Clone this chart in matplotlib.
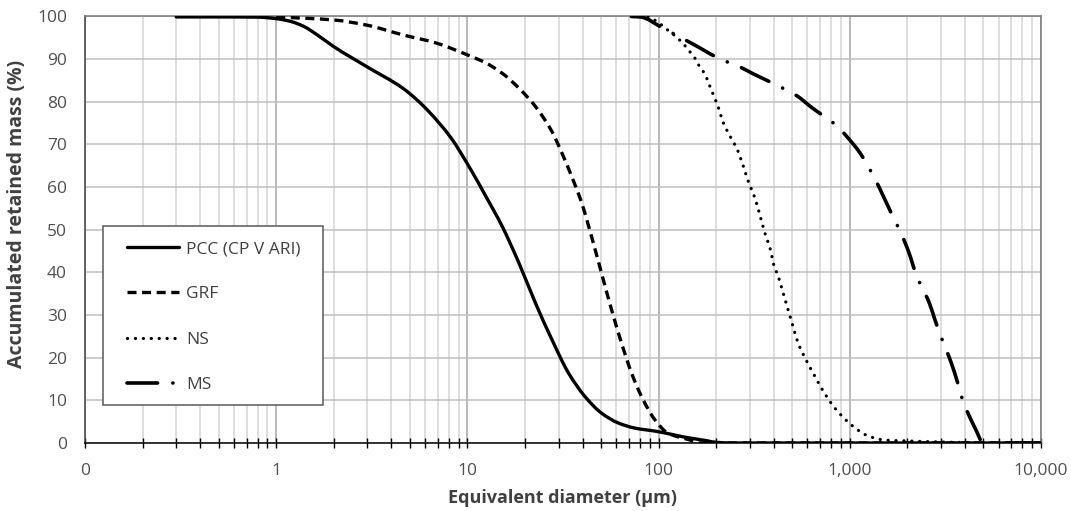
import matplotlib
matplotlib.use("Agg")
import numpy as np
import matplotlib.pyplot as plt
from matplotlib.path import Path
from matplotlib.patches import PathPatch, Rectangle
from matplotlib.lines import Line2D
from matplotlib.ticker import FixedLocator, FixedFormatter, LogLocator, NullFormatter

plt.rcParams['font.family'] = ['Open Sans', 'DejaVu Sans']
plt.rcParams['lines.scale_dashes'] = False

# Particle size distributions (equivalent diameter in µm, accumulated retained mass in %)
pcc_d = [0.3, 0.5, 0.8, 1.0, 1.2, 1.39, 1.65, 1.99, 2.96, 4.59, 5.4, 6.32, 8.19, 10.2,
         12.5, 15.2, 18.6, 22.7, 27.7, 33.8, 41.2, 50.3, 61.5, 75.0, 98.4, 119, 136,
         178, 200, 250, 500, 1000, 2000, 5000, 10000]
pcc_m = [99.9, 99.9, 99.85, 99.5, 98.8, 97.7, 95.6, 93.0, 88.3, 83.2, 80.6, 77.6, 71.6,
         64.8, 57.8, 50.8, 42.2, 32.8, 24.2, 16.4, 10.9, 7.0, 4.7, 3.5, 2.7, 1.95, 1.4,
         0.55, 0.15, 0, 0, 0, 0, 0, 0]

grf_d = [1.0, 1.99, 2.96, 4.59, 6.85, 10, 12.5, 15.2, 18.6, 22.7, 27.7, 31.2, 35.1,
         39.6, 44.6, 50.3, 56.8, 64.0, 72.2, 81.4, 95.4, 112, 146, 164, 500, 10000]
grf_m = [99.9, 99.2, 98.0, 95.7, 93.8, 91.0, 89.1, 86.7, 83.2, 78.9, 73.0, 68.0, 62.5,
         56.3, 48.4, 39.8, 31.2, 23.4, 16.4, 10.9, 5.5, 2.3, 0.7, 0, 0, 0]

ns_d = [88, 100, 108, 115, 134, 146, 155, 164, 174, 189, 205, 217, 240, 255, 276, 293,
        318, 337, 358, 383, 403, 420, 446, 473, 502, 533, 590, 652, 721, 812, 934,
        1075, 1211, 1365, 1509, 1958, 2920, 4352, 10000]
ns_m = [100, 98.6, 97.3, 96.4, 93.7, 91.7, 90.2, 88.2, 86.6, 82.7, 78.8, 75.3, 71.4,
        69.3, 65.2, 61.6, 57.6, 53.8, 49.5, 45.6, 41.3, 39.4, 35.5, 31.6, 27.7, 23.8,
        19.5, 15.9, 12.4, 8.9, 5.8, 3.4, 1.9, 1.1, 0.7, 0.5, 0.25, 0.1, 0]

ms_d = [72, 80, 106, 149, 213, 260, 311, 446, 533, 626, 863, 984, 1119, 1365, 1496,
        1636, 1920, 2080, 2208, 2612, 2783, 2978, 3424, 3666, 3865, 4532, 5000, 10000]
ms_m = [100, 99.9, 97.2, 93.7, 89.9, 88.4, 86.6, 83.2, 81.3, 78.8, 74.2, 71.4, 68.3,
        61.6, 57.9, 54.2, 47.6, 43.5, 39.8, 32.7, 29.0, 25.3, 18.3, 14.1, 10.5, 3.4,
        0, 0]

series_names = ['PCC (CP V ARI)', 'GRF', 'NS', 'MS']

x_major = [0.1, 1, 10, 100, 1000, 10000]
x_labels = ["0", "1", "10", "100", "1,000", "10,000"]
y_ticks = list(range(0, 101, 10))


def smoothed_path(xs, ys):
    """Monotone cubic (Fritsch-Butland) Bezier path through the points, smooth in log-x."""
    lx = np.log10(np.asarray(xs, float))
    y = np.asarray(ys, float)
    h = np.diff(lx)
    delta = np.diff(y) / h
    n = len(lx)
    m = np.zeros(n)
    m[0], m[-1] = delta[0], delta[-1]
    for i in range(1, n - 1):
        if delta[i - 1] * delta[i] <= 0:
            m[i] = 0.0
        else:
            w1 = 2 * h[i] + h[i - 1]
            w2 = h[i] + 2 * h[i - 1]
            m[i] = (w1 + w2) / (w1 / delta[i - 1] + w2 / delta[i])
    verts = [(lx[0], y[0])]
    codes = [Path.MOVETO]
    for i in range(n - 1):
        verts += [(lx[i] + h[i] / 3, y[i] + m[i] * h[i] / 3),
                  (lx[i + 1] - h[i] / 3, y[i + 1] - m[i + 1] * h[i] / 3),
                  (lx[i + 1], y[i + 1])]
        codes += [Path.CURVE4] * 3
    verts = np.array(verts)
    verts[:, 0] = 10 ** verts[:, 0]
    return Path(verts, codes)


fig = plt.figure(figsize=(10.71, 5.11), dpi=100)
ax = fig.add_axes([85 / 1071, (511 - 443) / 511, 956 / 1071, 426.5 / 511])

styles = [
    dict(lw=2.4, ls='-', cap='round'),
    dict(lw=2.4, ls=(0, (6.5, 4.0)), cap='butt'),
    dict(lw=2.3, ls=(0, (0.1, 5.6)), cap='round'),
    dict(lw=2.6, ls=(0, (22, 11, 0.1, 11)), cap='round'),
]
data = [(pcc_d, pcc_m), (grf_d, grf_m), (ns_d, ns_m), (ms_d, ms_m)]

handles = []
for (xs, ys), st, name in zip(data, styles, series_names):
    patch = PathPatch(smoothed_path(xs, ys), fill=False, edgecolor='black', lw=st['lw'],
                      linestyle=st['ls'], capstyle=st['cap'], joinstyle='round', zorder=5)
    ax.add_patch(patch)
    handles.append(Line2D([], [], color='black', lw=st['lw'], linestyle=st['ls'],
                          dash_capstyle=st['cap'], solid_capstyle=st['cap']))

ax.set_xscale('log')
ax.set_xlim(0.1, 10000)
ax.set_ylim(0, 100)

ax.xaxis.set_major_locator(FixedLocator(x_major))
ax.xaxis.set_major_formatter(FixedFormatter(x_labels))
ax.xaxis.set_minor_locator(LogLocator(base=10, subs=range(2, 10)))
ax.xaxis.set_minor_formatter(NullFormatter())
ax.set_yticks(y_ticks)

ax.tick_params(axis='x', which='both', direction='inout', length=7, width=1,
               color='black', labelsize=12.5, labelcolor='#505050', pad=11)
ax.tick_params(axis='y', which='both', length=0, labelsize=12.5, labelcolor='#505050', pad=13)

ax.grid(True, axis='y', color='#bfbfbf', lw=1.1)
ax.grid(True, axis='x', which='major', color='#a6a6a6', lw=1.1)
ax.grid(True, axis='x', which='minor', color='#d4d4d4', lw=1.1)
ax.set_axisbelow(True)

for side in ('top', 'right'):
    ax.spines[side].set_color('#808080')
    ax.spines[side].set_linewidth(1.2)
ax.spines['left'].set_color('#404040')
ax.spines['bottom'].set_color('black')
ax.spines['left'].set_linewidth(1.1)
ax.spines['bottom'].set_linewidth(1.1)

ax.set_xlabel('Equivalent diameter (µm)', fontsize=13, fontweight='bold', color='#404040', labelpad=7)
ax.set_ylabel('Accumulated retained mass (%)', fontsize=14, fontweight='bold', color='#404040')
ax.yaxis.set_label_coords((27 - 85) / 956, (443 - 213.5) / 426.5)

# Legend box drawn as its own rectangle, entries placed inside it
ax.add_patch(Rectangle(((103 - 85) / 956, (443 - 405) / 426.5), 220 / 956, 179 / 426.5,
                       transform=ax.transAxes, facecolor='white', edgecolor='#595959',
                       lw=1.1, zorder=6))
leg = ax.legend(handles, series_names, loc='upper left',
                bbox_to_anchor=((127 - 85) / 956, (443 - 241) / 426.5),
                borderaxespad=0, borderpad=0, fontsize=12.5, labelspacing=1.68,
                handlelength=3.0, handletextpad=0.4, frameon=False)
leg.set_zorder(7)
for t in leg.get_texts():
    t.set_color('#404040')

fig.savefig('out.png', dpi=100)
